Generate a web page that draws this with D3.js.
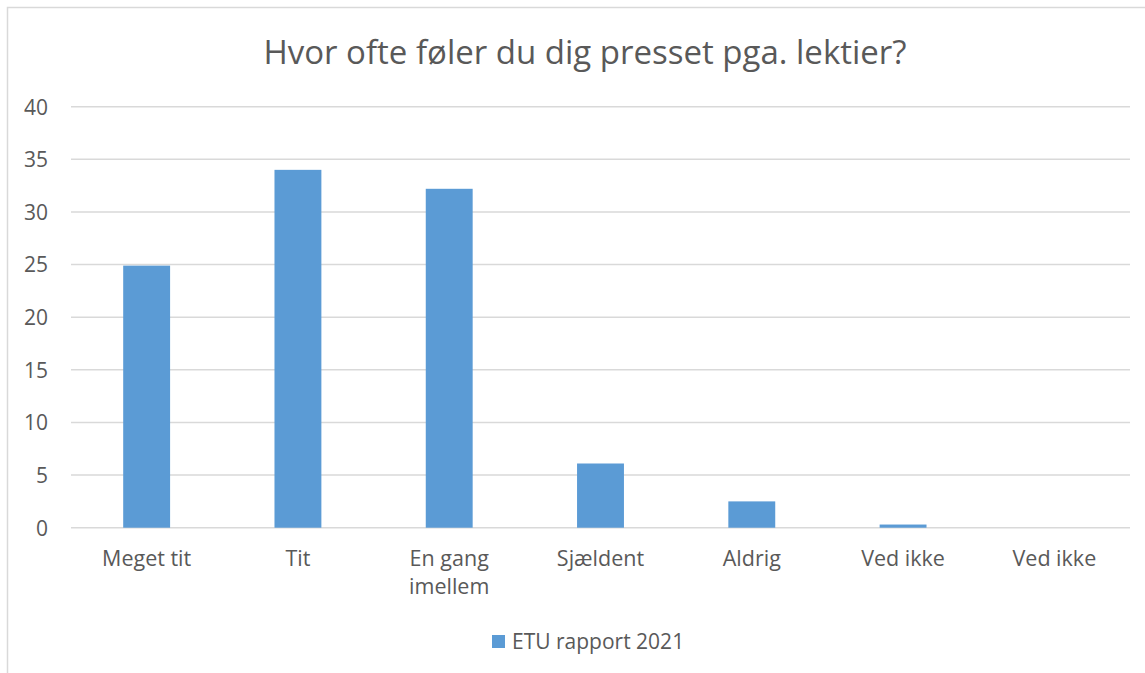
<!DOCTYPE html>
<html>
<head>
<meta charset="utf-8">
<script src="https://cdn.jsdelivr.net/npm/d3@7"></script>
<style>
  html, body { margin: 0; padding: 0; background: #fff; }
  svg text { font-family: "Open Sans", "Noto Sans", sans-serif; fill: #595959; }
</style>
</head>
<body>
<svg id="chart" width="1145" height="673"></svg>
<script>
// Survey answers: how often pupils feel pressured by homework
const categories = ["Meget tit", "Tit", "En gang imellem", "Sjældent", "Aldrig", "Ved ikke", "Ved ikke "];
const categoryLines = [["Meget tit"], ["Tit"], ["En gang", "imellem"], ["Sjældent"], ["Aldrig"], ["Ved ikke"], ["Ved ikke"]];
const values = [24.9, 34.0, 32.2, 6.1, 2.5, 0.3, 0];
const yTicks = [0, 5, 10, 15, 20, 25, 30, 35, 40];
const seriesName = "ETU rapport 2021";
const titleText = "Hvor ofte føler du dig presset pga. lektier?";

const svg = d3.select("#chart");
const W = 1145, H = 673;
const plot = { left: 71, right: 1130, top: 106.7, bottom: 527.7 };
const barColor = "#5b9bd5";
const gridColor = "#d9d9d9";
const labelSize = 21.5;

// outer frame of the chart area
svg.append("rect")
  .attr("x", 7.5).attr("y", 7.5)
  .attr("width", W + 10).attr("height", H + 10)
  .attr("fill", "#fff").attr("stroke", gridColor).attr("stroke-width", 1.5);

const x = d3.scaleBand().domain(categories).range([plot.left, plot.right]).paddingInner(0.69).paddingOuter(0.345);
const y = d3.scaleLinear().domain([0, 40]).range([plot.bottom, plot.top]);

// horizontal gridlines
svg.append("g").selectAll("line").data(yTicks).join("line")
  .attr("x1", plot.left).attr("x2", plot.right)
  .attr("y1", d => y(d)).attr("y2", d => y(d))
  .attr("stroke", gridColor).attr("stroke-width", 1.5);

// y axis labels
const yAxis = d3.axisLeft(y).tickValues(yTicks).tickSize(0).tickPadding(0);
const gy = svg.append("g").attr("transform", `translate(${48},0)`).call(yAxis);
gy.attr("font-size", null).attr("font-family", null);
gy.select(".domain").remove();
gy.selectAll("text").attr("font-size", 21).attr("fill", "#595959").attr("dy", "0.35em");

// bars
svg.append("g").selectAll("rect").data(values).join("rect")
  .attr("x", (d, i) => x(categories[i]))
  .attr("width", x.bandwidth())
  .attr("y", d => y(d))
  .attr("height", d => y(0) - y(d))
  .attr("fill", barColor);

// x category labels (wrapped)
const gx = svg.append("g");
categories.forEach((c, i) => {
  const cx = x(c) + x.bandwidth() / 2;
  const t = gx.append("text")
    .attr("x", cx).attr("y", 566)
    .attr("text-anchor", "middle").attr("font-size", labelSize);
  categoryLines[i].forEach((line, j) => {
    t.append("tspan").attr("x", cx).attr("dy", j === 0 ? 0 : 28).text(line);
  });
});

// title
svg.append("text")
  .attr("x", 585).attr("y", 64)
  .attr("text-anchor", "middle")
  .attr("font-size", 33)
  .text(titleText);

// legend
const lg = svg.append("g");
lg.append("rect").attr("x", 492).attr("y", 635).attr("width", 13).attr("height", 13).attr("fill", barColor);
lg.append("text").attr("x", 512).attr("y", 649).attr("font-size", 21).text(seriesName);
</script>
</body>
</html>
